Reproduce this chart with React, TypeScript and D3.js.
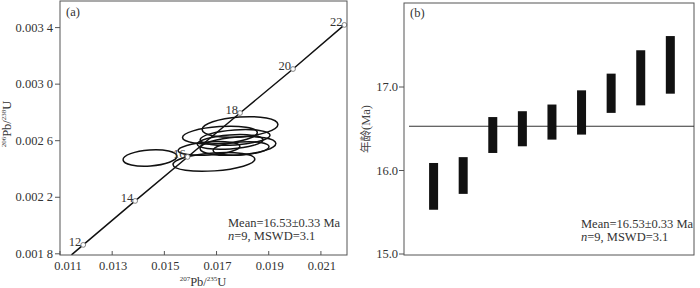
import { useEffect, useRef } from "react";
import * as d3 from "d3";

// (a) concordia, ages in Ma with their ratio pairs
const concordiaAges = [12, 14, 16, 18, 20, 22];
const concordiaX = [0.01189, 0.01388, 0.01589, 0.0179, 0.01993, 0.0219];
const concordiaY = [0.001863, 0.002174, 0.002485, 0.002796, 0.003107, 0.003419];
// where the curve comes in at the bottom of the frame
const concordiaStart = [0.01144, 0.001792];

// (a) error ellipses: centre and half-axes
const ellX = [0.01445, 0.0169, 0.0179, 0.01713, 0.01671, 0.01782, 0.01794, 0.01771, 0.01752];
const ellY = [0.002478, 0.00245, 0.002697, 0.00264, 0.002545, 0.002563, 0.002545, 0.002623, 0.002591];
const ellSx = [0.001035, 0.001571, 0.001456, 0.001437, 0.001188, 0.001456, 0.001073, 0.001341, 0.001265];
const ellSy = [0.0000566, 0.0000636, 0.0000707, 0.0000601, 0.000046, 0.0000636, 0.000046, 0.000053, 0.0000495];

const xTicksA = [0.011, 0.013, 0.015, 0.017, 0.019, 0.021];
const yTicksA = [0.0018, 0.0022, 0.0026, 0.003, 0.0034];
const yTickLabelsA = ["0.001 8", "0.002 2", "0.002 6", "0.003 0", "0.003 4"];

// (b) weighted mean, age bars
const ageLow = [15.53, 15.72, 16.21, 16.29, 16.37, 16.43, 16.69, 16.78, 16.92];
const ageHigh = [16.09, 16.16, 16.64, 16.71, 16.79, 16.96, 17.16, 17.44, 17.61];
const yTicksB = [15, 16, 17];
const meanAge = 16.53;

const FONT = "'Liberation Serif', 'Times New Roman', serif";
const FRAME = "#555";

export default function App() {
  const ref = useRef<SVGSVGElement>(null);

  useEffect(() => {
    const svg = d3.select(ref.current);
    svg.selectAll("*").remove();
    svg.attr("font-family", FONT).attr("font-size", 12.5);

    // ---------- panel (a)
    const x = d3.scaleLinear().domain([0.011, 0.022]).range([60, 347]);
    const y = d3.scaleLinear().domain([0.0018, 0.0034]).range([253.8, 27.6]);
    const top = 1;
    const bottom = 255;

    svg
      .append("defs")
      .append("clipPath")
      .attr("id", "clipA")
      .append("rect")
      .attr("x", 60)
      .attr("y", top)
      .attr("width", 287)
      .attr("height", bottom - top);

    const a = svg.append("g");
    const plotA = a.append("g").attr("clip-path", "url(#clipA)");

    plotA
      .selectAll(".ell")
      .data(ellX)
      .enter()
      .append("ellipse")
      .attr("cx", (d) => x(d))
      .attr("cy", (_, i) => y(ellY[i]))
      .attr("rx", (d, i) => x(d + ellSx[i]) - x(d))
      .attr("ry", (_, i) => y(ellY[i]) - y(ellY[i] + ellSy[i]))
      .attr("transform", (d, i) => `rotate(-4,${x(d)},${y(ellY[i])})`)
      .attr("fill", "none")
      .attr("stroke", "#111")
      .attr("stroke-width", 1.5);

    const pts: [number, number][] = [
      [concordiaStart[0], concordiaStart[1]],
      ...concordiaX.map((d, i) => [d, concordiaY[i]] as [number, number]),
    ];
    plotA
      .append("path")
      .attr(
        "d",
        d3
          .line<[number, number]>()
          .x((d) => x(d[0]))
          .y((d) => y(d[1]))(pts)
      )
      .attr("fill", "none")
      .attr("stroke", "#111")
      .attr("stroke-width", 1.5);

    a.selectAll(".age")
      .data(concordiaAges)
      .enter()
      .append("circle")
      .attr("cx", (_, i) => x(concordiaX[i]))
      .attr("cy", (_, i) => y(concordiaY[i]))
      .attr("r", 2.4)
      .attr("fill", "#fff")
      .attr("stroke", "#777")
      .attr("stroke-width", 0.9);

    a.selectAll(".ageLabel")
      .data(concordiaAges)
      .enter()
      .append("text")
      .attr("x", (_, i) => x(concordiaX[i]) - 2)
      .attr("y", (_, i) => y(concordiaY[i]) + 1)
      .attr("text-anchor", "end")
      .attr("fill", "#333")
      .text((d) => d);

    a.append("rect")
      .attr("x", 60)
      .attr("y", top)
      .attr("width", 287)
      .attr("height", bottom - top)
      .attr("fill", "none")
      .attr("stroke", FRAME);

    a.selectAll(".xt")
      .data(xTicksA)
      .enter()
      .append("line")
      .attr("x1", (d) => x(d))
      .attr("x2", (d) => x(d))
      .attr("y1", bottom)
      .attr("y2", bottom - 4)
      .attr("stroke", FRAME);

    a.selectAll(".xl")
      .data(xTicksA)
      .enter()
      .append("text")
      .attr("x", (d, i) => x(d) + (i === 0 ? 8 : 1))
      .attr("y", 270)
      .attr("text-anchor", "middle")
      .attr("fill", "#333")
      .text((d) => d3.format(".3f")(d));

    a.selectAll(".yt")
      .data(yTicksA)
      .enter()
      .append("line")
      .attr("x1", 55)
      .attr("x2", 60)
      .attr("y1", (d) => y(d))
      .attr("y2", (d) => y(d))
      .attr("stroke", FRAME);

    a.selectAll(".yl")
      .data(yTicksA)
      .enter()
      .append("text")
      .attr("x", 53)
      .attr("y", (d) => y(d) + 4)
      .attr("text-anchor", "end")
      .attr("fill", "#333")
      .text((_, i) => yTickLabelsA[i]);

    const xLab = a
      .append("text")
      .attr("x", 203)
      .attr("y", 286)
      .attr("text-anchor", "middle")
      .attr("fill", "#333");
    xLab.append("tspan").attr("font-size", 7).attr("dy", -5).text("207");
    xLab.append("tspan").attr("dy", 5).text("Pb/");
    xLab.append("tspan").attr("font-size", 7).attr("dy", -5).text("235");
    xLab.append("tspan").attr("dy", 5).text("U");

    const yLab = a
      .append("text")
      .attr("transform", "translate(11,124) rotate(-90)")
      .attr("text-anchor", "middle")
      .attr("fill", "#333");
    yLab.append("tspan").attr("font-size", 7).attr("dy", -5).text("206");
    yLab.append("tspan").attr("dy", 5).text("Pb/");
    yLab.append("tspan").attr("font-size", 7).attr("dy", -5).text("238");
    yLab.append("tspan").attr("dy", 5).text("U");

    a.append("text").attr("x", 66).attr("y", 16).attr("fill", "#333").text("(a)");

    const meanA = a.append("text").attr("fill", "#333");
    meanA.append("tspan").attr("x", 228).attr("y", 227).text("Mean=16.53±0.33 Ma");
    const lineA = meanA.append("tspan").attr("x", 228).attr("y", 240);
    lineA.append("tspan").attr("font-style", "italic").text("n");
    lineA.append("tspan").text("=9, MSWD=3.1");

    // ---------- panel (b)
    const xb = d3.scaleLinear().domain([0, 9.8]).range([404, 694]);
    const yb = d3.scaleLinear().domain([15, 18]).range([254, 3.5]);
    const b = svg.append("g");

    b.append("rect")
      .attr("x", 404)
      .attr("y", 3)
      .attr("width", 290)
      .attr("height", 252)
      .attr("fill", "none")
      .attr("stroke", FRAME);

    b.append("line")
      .attr("x1", 409)
      .attr("x2", 694)
      .attr("y1", yb(meanAge))
      .attr("y2", yb(meanAge))
      .attr("stroke", "#333")
      .attr("stroke-width", 1.2);

    b.selectAll(".bar")
      .data(ageLow)
      .enter()
      .append("rect")
      .attr("x", (_, i) => xb(i + 1) - 4.5)
      .attr("y", (_, i) => yb(ageHigh[i]))
      .attr("width", 9)
      .attr("height", (d, i) => yb(d) - yb(ageHigh[i]))
      .attr("fill", "#111");

    b.selectAll(".yt")
      .data(yTicksB)
      .enter()
      .append("line")
      .attr("x1", 399)
      .attr("x2", 404)
      .attr("y1", (d) => yb(d))
      .attr("y2", (d) => yb(d))
      .attr("stroke", FRAME);

    b.selectAll(".yl")
      .data(yTicksB)
      .enter()
      .append("text")
      .attr("x", 398)
      .attr("y", (d) => yb(d) + 4)
      .attr("text-anchor", "end")
      .attr("fill", "#333")
      .text((d) => d3.format(".1f")(d));

    const yLabB = b
      .append("text")
      .attr("transform", "translate(370,129) rotate(-90)")
      .attr("text-anchor", "middle")
      .attr("fill", "#444");
    yLabB
      .append("tspan")
      .attr("font-family", "'Noto Sans CJK SC', sans-serif")
      .attr("font-size", 11.5)
      .text("年龄");
    yLabB.append("tspan").text("(Ma)");

    b.append("text").attr("x", 410).attr("y", 17).attr("fill", "#333").text("(b)");

    const meanB = b.append("text").attr("fill", "#333");
    meanB.append("tspan").attr("x", 581).attr("y", 228).text("Mean=16.53±0.33 Ma");
    const lineB = meanB.append("tspan").attr("x", 581).attr("y", 241);
    lineB.append("tspan").attr("font-style", "italic").text("n");
    lineB.append("tspan").text("=9, MSWD=3.1");
  }, []);

  return (
    <svg
      ref={ref}
      width={700}
      height={288}
      style={{ position: "absolute", left: 0, top: 0, background: "#fff" }}
    ></svg>
  );
}
